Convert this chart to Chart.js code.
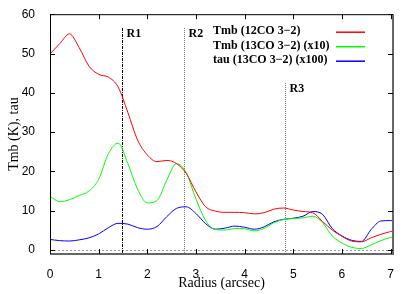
<!DOCTYPE html>
<html>
<head>
<meta charset="utf-8">
<script src="https://cdn.jsdelivr.net/npm/chart.js@4.4.1/dist/chart.umd.min.js"></script>
<style>
html, body { margin: 0; padding: 0; background: #fff; }
#caixa { width: 415px; height: 294px; }
</style>
</head>
<body>
<div id="caixa"><canvas id="grafico"></canvas></div>
<script>
// dados
const raio = [0.0, 0.2, 0.4, 0.6, 0.8, 1.0, 1.2, 1.4, 1.6, 1.8, 2.0, 2.2, 2.4, 2.6, 2.8, 3.0, 3.2, 3.4,
    3.6, 3.8, 4.0, 4.2, 4.4, 4.6, 4.8, 5.0, 5.2, 5.4, 5.6, 5.8, 6.0, 6.2, 6.4, 6.6, 6.8, 7.0, 7.05];
const tmb12co = [49.9, 52.5, 55.0, 51.5, 46.8, 44.7, 44.0, 41.5, 35.0, 28.0, 24.2, 22.5, 22.8, 22.0, 19.5, 14.8, 11.0, 9.9,
    9.6, 9.6, 9.5, 9.2, 9.5, 10.4, 10.7, 10.2, 9.8, 9.5, 7.3, 5.1, 3.5, 2.3, 2.1, 3.1, 4.0, 4.7, 4.8];
const tmb13co = [13.7, 12.3, 12.8, 13.9, 15.0, 18.0, 24.5, 27.2, 22.0, 15.5, 12.0, 12.6, 17.8, 22.0, 19.7, 13.0, 7.5, 5.2,
    5.1, 5.5, 5.4, 4.9, 5.5, 6.9, 7.8, 8.0, 8.2, 8.6, 7.0, 3.6, 1.8, 0.7, 0.4, 1.3, 2.4, 3.2, 3.3];
const tau13co = [2.7, 2.4, 2.3, 2.6, 3.1, 4.1, 5.7, 6.8, 6.6, 5.7, 5.3, 6.0, 8.5, 10.6, 11.0, 9.3, 6.7, 5.3,
    5.6, 6.1, 5.8, 5.3, 5.9, 7.2, 7.8, 8.1, 8.6, 9.8, 9.1, 5.5, 3.6, 2.5, 2.2, 5.2, 7.4, 7.5, 7.5];

const nomesSeries = ['Tmb (12CO 3\u22122)', 'Tmb (13CO 3\u22122) (x10)', 'tau (13CO 3\u22122) (x100)'];
const coresSeries = ['#ff0000', '#00ff00', '#0000ff'];

const regioes = ['R1', 'R2', 'R3'];
const raioRegioes = [1.49, 2.75, 4.83];
const topoRegioes = [56.5, 56.5, 42.5];

const ticksX = [0, 1, 2, 3, 4, 5, 6, 7];
const ticksY = [0, 10, 20, 30, 40, 50, 60];

function pontos(valores) {
    return raio.map((r, i) => ({ x: r, y: valores[i] }));
}

const serif = "'Liberation Serif', 'DejaVu Serif', serif";
const sans = "'Liberation Sans', Arial, sans-serif";

const extras = {
    id: 'extras',
    beforeDatasetsDraw(chart) {
        const { ctx, chartArea: a, scales: { x, y } } = chart;
        ctx.save();
        // linha do zero
        ctx.strokeStyle = '#999';
        ctx.lineWidth = 1;
        ctx.setLineDash([2, 2]);
        const y0 = Math.round(y.getPixelForValue(0)) + 0.5;
        ctx.beginPath();
        ctx.moveTo(a.left, y0);
        ctx.lineTo(a.right, y0);
        ctx.stroke();

        // regiões
        regioes.forEach((nome, i) => {
            const px = Math.round(x.getPixelForValue(raioRegioes[i])) + 0.5;
            const py = y.getPixelForValue(topoRegioes[i]);
            ctx.strokeStyle = i === 0 ? '#000' : '#777';
            ctx.setLineDash(i === 0 ? [3, 1, 1, 1] : [1, 1]);
            ctx.beginPath();
            ctx.moveTo(px, py);
            ctx.lineTo(px, a.bottom);
            ctx.stroke();
            ctx.setLineDash([]);
            ctx.fillStyle = '#000';
            ctx.font = 'bold 12px ' + serif;
            ctx.textAlign = 'left';
            ctx.textBaseline = 'middle';
            ctx.fillText(nome, px + 4, py + 6);
        });
        ctx.restore();
    },
    afterDraw(chart) {
        const { ctx, chartArea: a, scales: { x, y } } = chart;
        ctx.save();
        ctx.setLineDash([]);
        // moldura
        ctx.lineWidth = 1;
        ctx.strokeStyle = '#000';
        ctx.beginPath();
        ctx.moveTo(a.left + 0.5, a.bottom);
        ctx.lineTo(a.left + 0.5, a.top + 0.5);
        ctx.lineTo(a.right, a.top + 0.5);
        ctx.stroke();
        ctx.strokeStyle = '#666';
        ctx.lineWidth = 2;
        ctx.beginPath();
        ctx.moveTo(a.left, a.bottom);
        ctx.lineTo(a.right, a.bottom);
        ctx.lineTo(a.right, a.top);
        ctx.stroke();

        // marcas para dentro
        ctx.lineWidth = 1;
        ctx.strokeStyle = '#000';
        ctx.beginPath();
        ticksX.forEach(v => {
            const px = Math.round(x.getPixelForValue(v)) + 0.5;
            ctx.moveTo(px, a.bottom); ctx.lineTo(px, a.bottom - 5);
            ctx.moveTo(px, a.top); ctx.lineTo(px, a.top + 5);
        });
        ticksY.forEach(v => {
            const py = Math.round(y.getPixelForValue(v)) + 0.5;
            ctx.moveTo(a.left, py); ctx.lineTo(a.left + 5, py);
            ctx.moveTo(a.right, py); ctx.lineTo(a.right - 5, py);
        });
        ctx.stroke();

        // legenda
        ctx.font = 'bold 12px ' + serif;
        ctx.textAlign = 'left';
        ctx.textBaseline = 'middle';
        nomesSeries.forEach((nome, i) => {
            const ly = a.top + 17 + i * 14.5;
            ctx.fillStyle = '#000';
            ctx.fillText(nome, a.left + 163, ly);
            ctx.strokeStyle = coresSeries[i];
            ctx.lineWidth = 1.5;
            ctx.beginPath();
            ctx.moveTo(a.left + 286, ly + 1);
            ctx.lineTo(a.left + 315, ly + 1);
            ctx.stroke();
        });
        ctx.restore();
    }
};

function criarGrafico() {
    const ctx = document.getElementById('grafico').getContext('2d');
    window.grafico = new Chart(ctx, {
        type: 'line',
        data: {
            datasets: [tmb12co, tmb13co, tau13co].map((valores, i) => ({
                label: nomesSeries[i],
                data: pontos(valores),
                borderColor: coresSeries[i],
                borderWidth: 1,
                pointRadius: 0,
                fill: false,
                tension: 0.4,
                cubicInterpolationMode: 'monotone'
            }))
        },
        options: {
            responsive: true,
            maintainAspectRatio: false,
            animation: false,
            devicePixelRatio: 1,
            layout: { padding: { left: 0, top: 14, right: 22, bottom: 0 } },
            plugins: {
                legend: { display: false },
                tooltip: { enabled: false }
            },
            scales: {
                x: {
                    type: 'linear',
                    min: 0,
                    max: 7.05,
                    grid: { display: false },
                    border: { display: false },
                    afterFit: s => { s.height = 40; },
                    afterBuildTicks: s => { s.ticks = ticksX.map(v => ({ value: v })); },
                    ticks: { color: '#000', font: { family: sans, size: 12 }, padding: 5, maxRotation: 0 },
                    title: { display: true, text: 'Radius (arcsec)', color: '#000', font: { family: serif, size: 14 }, padding: { top: 0, bottom: 2 } }
                },
                y: {
                    min: -1,
                    max: 60,
                    grid: { display: false },
                    border: { display: false },
                    afterFit: s => { s.width = 50; },
                    afterBuildTicks: s => { s.ticks = ticksY.map(v => ({ value: v })); },
                    ticks: { color: '#000', font: { family: sans, size: 12 }, padding: 7 },
                    title: { display: true, text: 'Tmb (K), tau', color: '#000', font: { family: serif, size: 14 }, padding: { top: 6, bottom: 0 } }
                }
            }
        },
        plugins: [extras]
    });
}

window.addEventListener('DOMContentLoaded', criarGrafico);
</script>
</body>
</html>
